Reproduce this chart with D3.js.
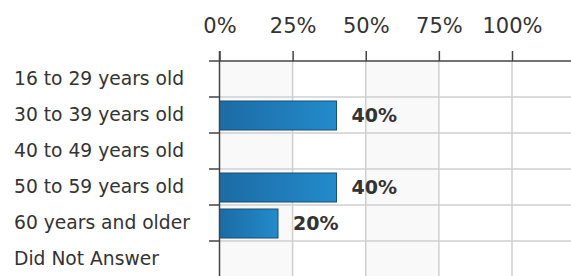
<!DOCTYPE html>
<html>
<head>
<meta charset="utf-8">
<script src="https://cdn.jsdelivr.net/npm/d3@7"></script>
<style>
  html, body { margin: 0; padding: 0; background: #fff; }
  svg { display: block; font-family: "DejaVu Sans", Verdana, sans-serif; }
</style>
</head>
<body>
<div id="chart"></div>
<script>
// ---------------------------------------------------------------------------
// Data
// ---------------------------------------------------------------------------
const categories = [
  '16 to 29 years old',
  '30 to 39 years old',
  '40 to 49 years old',
  '50 to 59 years old',
  '60 years and older',
  'Did Not Answer'
];
const values = [0, 0.40, 0, 0.40, 0.20, 0];
const ticks = [0, 0.25, 0.5, 0.75, 1];

// ---------------------------------------------------------------------------
// Layout
// ---------------------------------------------------------------------------
const W = 571, H = 276;
const M = { top: 61, left: 219.5 };
const plotRight = W;

const svg = d3.select('#chart').append('svg')
  .attr('width', W)
  .attr('height', H);

const x = d3.scaleLinear().domain([0, 1]).range([M.left, 512]);
const y = d3.scaleBand().domain(categories).range([M.top, M.top + 36 * categories.length]);

// gradient for the bars
const defs = svg.append('defs');
const grad = defs.append('linearGradient')
  .attr('id', 'barGrad')
  .attr('x1', 0).attr('x2', 1).attr('y1', 0).attr('y2', 0);
grad.append('stop').attr('offset', '0%').attr('stop-color', '#1c6ba4');
grad.append('stop').attr('offset', '100%').attr('stop-color', '#238bcb');

// alternating column stripes (0-25%, 50-75%)
const stripes = d3.pairs(ticks).filter((d, i) => i % 2 === 0);
svg.append('g')
  .selectAll('rect')
  .data(stripes)
  .join('rect')
  .attr('x', d => x(d[0]))
  .attr('y', M.top)
  .attr('width', d => x(d[1]) - x(d[0]))
  .attr('height', H - M.top)
  .attr('fill', '#f9f9f9');

// grid lines
const grid = svg.append('g').attr('stroke', '#cfcfcf').attr('stroke-width', 1.5);
grid.selectAll('line.v')
  .data(ticks.slice(1))
  .join('line')
  .attr('class', 'v')
  .attr('x1', d => x(d)).attr('x2', d => x(d))
  .attr('y1', M.top).attr('y2', H);
grid.selectAll('line.h')
  .data(categories.slice(1))
  .join('line')
  .attr('class', 'h')
  .attr('x1', M.left).attr('x2', plotRight)
  .attr('y1', d => y(d)).attr('y2', d => y(d));

// bars
const barData = values.map((v, i) => ({ cat: categories[i], v })).filter(d => d.v > 0);
const barPadTop = 4, barPadBottom = 3;
svg.append('g')
  .selectAll('rect')
  .data(barData)
  .join('rect')
  .attr('x', x(0))
  .attr('y', d => y(d.cat) + barPadTop)
  .attr('width', d => x(d.v) - x(0))
  .attr('height', y.bandwidth() - barPadTop - barPadBottom)
  .attr('fill', 'url(#barGrad)')
  .attr('stroke', '#174f7a')
  .attr('stroke-width', 1);

// value labels
svg.append('g')
  .selectAll('text')
  .data(barData)
  .join('text')
  .attr('x', d => x(d.v) + 15)
  .attr('y', d => y(d.cat) + y.bandwidth() / 2)
  .attr('dy', '0.36em')
  .attr('font-size', '19px')
  .attr('font-weight', 'bold')
  .attr('fill', '#333')
  .text(d => d3.format('.0%')(d.v));

// top axis
const xAxis = svg.append('g')
  .attr('transform', `translate(0,${M.top})`)
  .call(d3.axisTop(x).tickValues(ticks).tickFormat(d3.format('.0%')).tickSize(10).tickSizeOuter(0));
xAxis.select('.domain').remove();
xAxis.selectAll('.tick line').attr('stroke', '#444').attr('stroke-width', 1.5);
xAxis.selectAll('.tick text')
  .attr('y', -28)
  .attr('font-size', '21px')
  .attr('font-family', '"DejaVu Sans", Verdana, sans-serif')
  .attr('fill', '#333');
svg.append('line')
  .attr('x1', 209).attr('x2', plotRight)
  .attr('y1', M.top).attr('y2', M.top)
  .attr('stroke', '#444').attr('stroke-width', 1.5);

// left axis
const yAxis = svg.append('g')
  .attr('transform', `translate(${M.left},0)`)
  .call(d3.axisLeft(y).tickSize(0).tickPadding(0));
yAxis.select('.domain').remove();
yAxis.selectAll('.tick text')
  .attr('x', 14 - M.left)
  .attr('text-anchor', 'start')
  .attr('font-size', '18.7px')
  .attr('font-family', '"DejaVu Sans", Verdana, sans-serif')
  .attr('fill', '#333');

svg.append('line')
  .attr('x1', M.left).attr('x2', M.left)
  .attr('y1', M.top - 10).attr('y2', H)
  .attr('stroke', '#444').attr('stroke-width', 1.5);
svg.append('g')
  .selectAll('line')
  .data(categories.slice(1))
  .join('line')
  .attr('x1', 209).attr('x2', M.left)
  .attr('y1', d => y(d)).attr('y2', d => y(d))
  .attr('stroke', '#444').attr('stroke-width', 1.5);
</script>
</body>
</html>
